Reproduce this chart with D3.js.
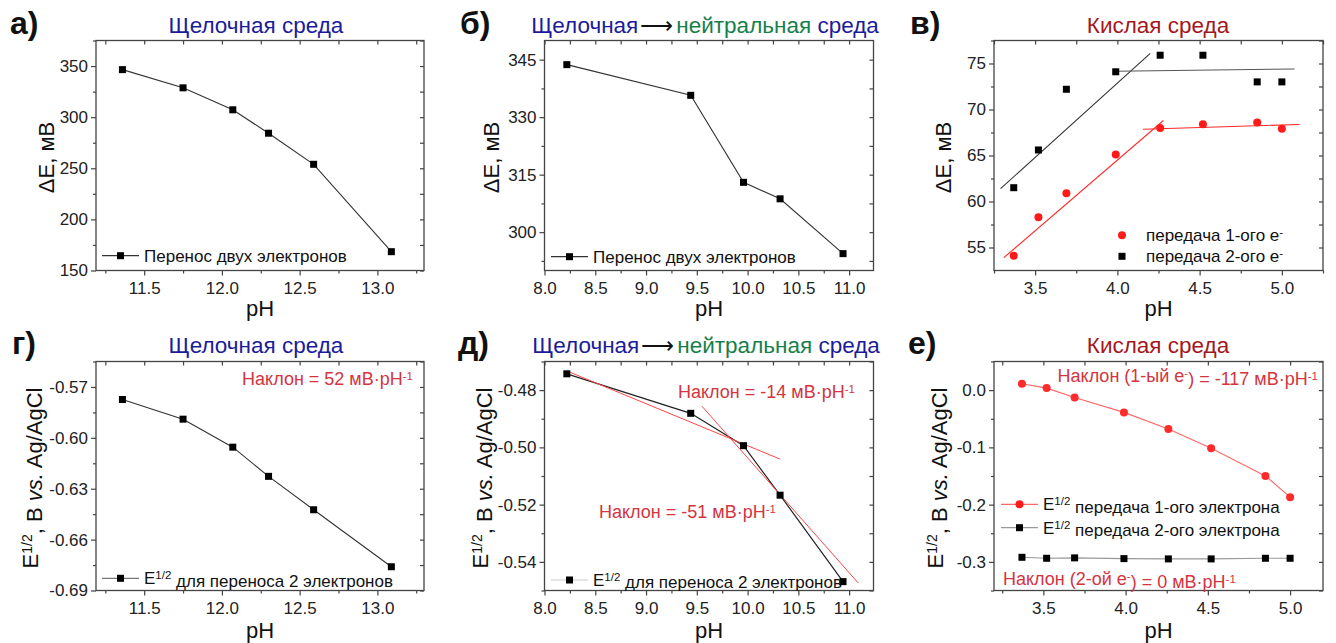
<!DOCTYPE html>
<html><head><meta charset="utf-8">
<script src="https://cdn.jsdelivr.net/npm/d3@7"></script>
<style>
body{margin:0;background:#fff}
svg text{font-family:"Liberation Sans",Arial,sans-serif}
</style>
</head><body>
<svg id="c" width="1336" height="643"></svg>
<script>
// ---------------- data ----------------
const phAlk = [11.36, 11.75, 12.07, 12.30, 12.59, 13.09];
const dEAlk = [346.5, 328.7, 307.2, 284.3, 253.9, 168.4];
const e12Alk = [-0.5774, -0.589, -0.6055, -0.6227, -0.6424, -0.676];

const phNeu = [8.22, 9.44, 9.96, 10.32, 10.94];
const dENeu = [343.7, 335.7, 313.0, 308.7, 294.4];
const e12Neu = [-0.4743, -0.4881, -0.4994, -0.5167, -0.5469];
const fitNeuLow = [[8.24, -0.4736], [10.32, -0.5041]];
const fitNeuHigh = [[9.55, -0.4856], [11.09, -0.5474]];

const phAcid = [3.37, 3.52, 3.69, 3.99, 4.26, 4.52, 4.85, 5.00];
const dEAcid1 = [54.1, 58.3, 60.9, 65.1, 68.0, 68.4, 68.6, 67.9];
const dEAcid2 = [61.5, 65.6, 72.2, 74.1, 75.9, 75.9, 73.0, 73.0];
const fitAcid1Rise = [[3.31, 53.9], [4.28, 68.8]];
const fitAcid1Flat = [[4.155, 67.86], [5.107, 68.37]];
const fitAcid2Rise = [[3.29, 61.4], [4.20, 76.1]];
const fitAcid2Flat = [[3.985, 74.16], [5.077, 74.41]];
const e12Acid1 = [0.011, 0.0035, -0.0128, -0.0389, -0.068, -0.1017, -0.1498, -0.187];
const e12Acid2 = [-0.292, -0.2937, -0.293, -0.2943, -0.2948, -0.2948, -0.2937, -0.2937];

const xTicksAlk = [11.5, 12.0, 12.5, 13.0];
const xMinorAlk = [11.25, 11.75, 12.25, 12.75, 13.25];
const xTicksNeu = [8.0, 8.5, 9.0, 9.5, 10.0, 10.5, 11.0];
const xMinorNeu = [8.25, 8.75, 9.25, 9.75, 10.25, 10.75];
const xTicksAcid = [3.5, 4.0, 4.5, 5.0];
const xMinorAcid = [3.25, 3.75, 4.25, 4.75, 5.25];

const yTicksA = [150, 200, 250, 300, 350];
const yTicksB = [300, 315, 330, 345];
const yTicksV = [55, 60, 65, 70, 75];
const yTicksG = [-0.69, -0.66, -0.63, -0.60, -0.57];
const yTicksD = [-0.54, -0.52, -0.50, -0.48];
const yTicksE = [-0.3, -0.2, -0.1, 0.0];

// ---------------- styles ----------------
const BLUE = "#1c1c9a", GREEN = "#17804a", DRED = "#a3181c", ANN = "#d4343f";
const FRAME = "#444";
const svg = d3.select("#c");

const cols = [{l: 96, r: 424}, {l: 544.5, r: 873.5}, {l: 994, r: 1323}];
const rows = [{t: 40.5, b: 270.5}, {t: 361.5, b: 590.5}];

function rich(sel, parts, supSize) {
  let up = false;
  parts.forEach(p => {
    const ts = sel.append("tspan").text(p.t);
    if (p.sup && !up) { ts.attr("dy", "-0.45em").attr("font-size", supSize); up = true; }
    else if (!p.sup && up) { ts.attr("dy", "0.45em"); up = false; }
    else if (p.sup) ts.attr("font-size", supSize);
    if (p.it) ts.attr("font-style", "italic");
    if (p.fill) ts.attr("fill", p.fill);
    if (p.dx) ts.attr("dx", p.dx);
  });
  return sel;
}

function panel(o) {
  const c = cols[o.col], r = rows[o.row];
  const x = d3.scaleLinear().domain(o.xDomain).range([c.l, c.r]);
  const y = d3.scaleLinear().domain(o.yDomain).range([r.b, r.t]);
  const g = svg.append("g");

  const style = sel => {
    sel.select(".domain").remove();
    sel.selectAll("line").attr("stroke", FRAME).attr("stroke-width", 1.2);
    sel.selectAll("text").attr("font-size", 17).attr("font-family", "Liberation Sans, Arial, sans-serif").attr("fill", "#222");
  };
  g.append("g").attr("transform", `translate(0,${r.b})`)
    .call(d3.axisBottom(x).tickValues(o.xTicks).tickSize(5).tickPadding(6).tickFormat(d3.format(".1f"))).call(style);
  g.append("g").attr("transform", `translate(0,${r.b})`)
    .call(d3.axisBottom(x).tickValues(o.xMinor).tickSize(3).tickFormat("")).call(style);
  g.append("g").attr("transform", `translate(0,${r.t})`)
    .call(d3.axisTop(x).tickValues(o.xTicks.concat(o.xMinor)).tickSize(-4).tickFormat("")).call(style);
  g.append("g").attr("transform", `translate(${c.l},0)`)
    .call(d3.axisLeft(y).tickValues(o.yTicks).tickSize(5).tickPadding(3).tickFormat(d3.format(o.yFmt))).call(style);
  g.append("g").attr("transform", `translate(${c.l},0)`)
    .call(d3.axisLeft(y).tickValues(o.yMinor).tickSize(3).tickFormat("")).call(style);
  g.append("g").attr("transform", `translate(${c.r},0)`)
    .call(d3.axisRight(y).tickValues(o.yTicks.concat(o.yMinor)).tickSize(-4).tickFormat("")).call(style);
  g.selectAll("g.tick text").filter(function(){return this.textContent.startsWith("−");})
    .text(function(){return this.textContent.replace("−", "-");});

  g.append("rect").attr("x", c.l).attr("y", r.t).attr("width", c.r - c.l).attr("height", r.b - r.t)
    .attr("fill", "none").attr("stroke", FRAME).attr("stroke-width", 1.3);

  // axis titles
  g.append("text").attr("x", (c.l + c.r) / 2).attr("y", o.row === 0 ? 316 : 638)
    .attr("text-anchor", "middle").attr("font-size", 22).attr("fill", "#111").text("pH");
  const yt = g.append("text").attr("transform", `translate(${o.yTitleX},${(r.t + r.b) / 2 + 2}) rotate(-90)`)
    .attr("text-anchor", "middle").attr("font-size", 22).attr("fill", "#111");
  rich(yt, o.yTitle, 14);

  // panel letter
  g.append("text").attr("x", o.labelX).attr("y", o.row === 0 ? 34 : 354)
    .attr("font-size", 32).attr("font-weight", "bold").attr("fill", "#111").text(o.label);
  // title
  const tt = g.append("text").attr("x", o.titleX).attr("y", o.row === 0 ? 33 : 353)
    .attr("text-anchor", "middle").attr("font-size", 22.5);
  rich(tt, o.title, 14);

  return {g, x, y};
}

const line = (x, y) => d3.line().x(d => x(d[0])).y(d => y(d[1]));
function squares(g, x, y, xs, ys, fill, s) {
  g.append("g").selectAll("rect").data(xs.map((v, i) => [v, ys[i]])).join("rect")
    .attr("x", d => x(d[0]) - s / 2).attr("y", d => y(d[1]) - s / 2)
    .attr("width", s).attr("height", s).attr("fill", fill);
}
function dots(g, x, y, xs, ys, fill, rr) {
  g.append("g").selectAll("circle").data(xs.map((v, i) => [v, ys[i]])).join("circle")
    .attr("cx", d => x(d[0])).attr("cy", d => y(d[1])).attr("r", rr).attr("fill", fill);
}
function series(g, x, y, xs, ys, stroke, sw) {
  g.append("path").datum(xs.map((v, i) => [v, ys[i]])).attr("d", line(x, y))
    .attr("fill", "none").attr("stroke", stroke).attr("stroke-width", sw);
}
function legendItem(g, x1, x2, yy, lineColor, marker, parts, fs, textX) {
  if (lineColor) g.append("line").attr("x1", x1).attr("x2", x2).attr("y1", yy).attr("y2", yy)
    .attr("stroke", lineColor).attr("stroke-width", 1.2);
  const mx = (x1 + x2) / 2;
  if (marker === "sq") g.append("rect").attr("x", mx - 3.5).attr("y", yy - 3.5).attr("width", 7).attr("height", 7).attr("fill", "#000");
  else g.append("circle").attr("cx", mx).attr("cy", yy).attr("r", 4).attr("fill", "#ff1a1a");
  const t = g.append("text").attr("x", textX != null ? textX : x2 + 5).attr("y", yy + 6).attr("font-size", fs).attr("fill", "#111");
  rich(t, parts, 11.5);
}
function annot(g, xx, yy, anchor, parts, fs) {
  const t = g.append("text").attr("x", xx).attr("y", yy).attr("text-anchor", anchor)
    .attr("font-size", fs).attr("fill", ANN).attr("font-family", "Open Sans, Noto Sans, sans-serif");
  rich(t, parts, 11.5);
}

const dETitle = [{t: "ΔE, мВ"}];
const eTitle = [{t: "E"}, {t: "1/2", sup: true}, {t: ", В "}, {t: "vs.", it: true}, {t: " Ag/AgCl"}];
const alkTitle = [{t: "Щелочная среда", fill: BLUE}];
const neuTitle = [{t: "Щелочная", fill: BLUE}, {t: "⟶", fill: "#111", dx: 2}, {t: "нейтральная", fill: GREEN, dx: 3}, {t: " среда", fill: BLUE}];
const acidTitle = [{t: "Кислая среда", fill: DRED}];

// ---- а)
{
  const p = panel({row: 0, col: 0, xDomain: [11.19, 13.30], yDomain: [150, 375],
    xTicks: xTicksAlk, xMinor: xMinorAlk, yTicks: yTicksA, yMinor: [175, 225, 275, 325, 375], yFmt: "d",
    yTitle: dETitle, yTitleX: 54, label: "а)", labelX: 10, title: alkTitle, titleX: 256});
  series(p.g, p.x, p.y, phAlk, dEAlk, "#333", 1.1);
  squares(p.g, p.x, p.y, phAlk, dEAlk, "#000", 7);
  legendItem(p.g, 102, 139, 255.7, "#333", "sq", [{t: "Перенос двух электронов"}], 17);
}
// ---- б)
{
  const p = panel({row: 0, col: 1, xDomain: [8.0, 11.24], yDomain: [290, 350],
    xTicks: xTicksNeu, xMinor: xMinorNeu, yTicks: yTicksB, yMinor: [292.5, 307.5, 322.5, 337.5], yFmt: "d",
    yTitle: dETitle, yTitleX: 499, label: "б)", labelX: 460, title: neuTitle, titleX: 705});
  series(p.g, p.x, p.y, phNeu, dENeu, "#333", 1.1);
  squares(p.g, p.x, p.y, phNeu, dENeu, "#000", 7);
  legendItem(p.g, 551, 588, 256.7, "#333", "sq", [{t: "Перенос двух электронов"}], 17);
}
// ---- в)
{
  const p = panel({row: 0, col: 2, xDomain: [3.25, 5.25], yDomain: [52.5, 77.5],
    xTicks: xTicksAcid, xMinor: xMinorAcid, yTicks: yTicksV, yMinor: [57.5, 62.5, 67.5, 72.5, 77.5], yFmt: "d",
    yTitle: dETitle, yTitleX: 951, label: "в)", labelX: 910, title: acidTitle, titleX: 1158});
  const L = line(p.x, p.y);
  p.g.append("path").datum(fitAcid2Rise).attr("d", L).attr("stroke", "#333").attr("stroke-width", 1.1).attr("fill", "none");
  p.g.append("path").datum(fitAcid2Flat).attr("d", L).attr("stroke", "#555").attr("stroke-width", 1.1).attr("fill", "none");
  p.g.append("path").datum(fitAcid1Rise).attr("d", L).attr("stroke", "#ff2a2a").attr("stroke-width", 1.1).attr("fill", "none");
  p.g.append("path").datum(fitAcid1Flat).attr("d", L).attr("stroke", "#ff2a2a").attr("stroke-width", 1.1).attr("fill", "none");
  dots(p.g, p.x, p.y, phAcid, dEAcid1, "#ff1a1a", 4);
  squares(p.g, p.x, p.y, phAcid, dEAcid2, "#000", 7);
  legendItem(p.g, 1122, 1122, 235.3, null, "ci", [{t: "передача 1-ого е"}, {t: "-", sup: true}], 17, 1146);
  legendItem(p.g, 1122, 1122, 256.3, null, "sq", [{t: "передача 2-ого е"}, {t: "-", sup: true}], 17, 1146);
}
// ---- г)
{
  const p = panel({row: 1, col: 0, xDomain: [11.19, 13.30], yDomain: [-0.69, -0.555],
    xTicks: xTicksAlk, xMinor: xMinorAlk, yTicks: yTicksG, yMinor: [-0.675, -0.645, -0.615, -0.585, -0.555], yFmt: ".2f",
    yTitle: eTitle, yTitleX: 38, label: "г)", labelX: 12, title: alkTitle, titleX: 256});
  series(p.g, p.x, p.y, phAlk, e12Alk, "#333", 1.1);
  squares(p.g, p.x, p.y, phAlk, e12Alk, "#000", 7);
  legendItem(p.g, 102, 139, 578.3, "#777", "sq", [{t: "E"}, {t: "1/2", sup: true}, {t: " для переноса 2 электронов"}], 17);
  annot(p.g, 413, 385, "end", [{t: "Наклон = 52 мВ·pH"}, {t: "-1", sup: true}], 18);
}
// ---- д)
{
  const p = panel({row: 1, col: 1, xDomain: [8.0, 11.24], yDomain: [-0.55, -0.47],
    xTicks: xTicksNeu, xMinor: xMinorNeu, yTicks: yTicksD, yMinor: [-0.55, -0.53, -0.51, -0.49, -0.47], yFmt: ".2f",
    yTitle: eTitle, yTitleX: 488, label: "д)", labelX: 458, title: neuTitle, titleX: 706});
  const L = line(p.x, p.y);
  series(p.g, p.x, p.y, phNeu, e12Neu, "#222", 1.2);
  p.g.append("path").datum(fitNeuLow).attr("d", L).attr("stroke", "#ff4545").attr("stroke-width", 1).attr("fill", "none");
  p.g.append("path").datum(fitNeuHigh).attr("d", L).attr("stroke", "#ff4545").attr("stroke-width", 1).attr("fill", "none");
  squares(p.g, p.x, p.y, phNeu, e12Neu, "#000", 7);
  legendItem(p.g, 551, 588, 580, "#ccc", "sq", [{t: "E"}, {t: "1/2", sup: true}, {t: " для переноса 2 электронов"}], 17);
  annot(p.g, 678, 398, "start", [{t: "Наклон = -14 мВ·pH"}, {t: "-1", sup: true}], 18);
  annot(p.g, 599, 518, "start", [{t: "Наклон = -51 мВ·pH"}, {t: "-1", sup: true}], 18);
}
// ---- е)
{
  const p = panel({row: 1, col: 2, xDomain: [3.2, 5.2], yDomain: [-0.35, 0.05],
    xTicks: xTicksAcid, xMinor: xMinorAcid.slice(0, 4), yTicks: yTicksE, yMinor: [-0.35, -0.25, -0.15, -0.05, 0.05], yFmt: ".1f",
    yTitle: eTitle, yTitleX: 943, label: "е)", labelX: 908, title: acidTitle, titleX: 1158});
  series(p.g, p.x, p.y, phAcid, e12Acid1, "#ff6666", 1.1);
  series(p.g, p.x, p.y, phAcid, e12Acid2, "#999", 1.1);
  dots(p.g, p.x, p.y, phAcid, e12Acid1, "#ff2a2a", 4);
  squares(p.g, p.x, p.y, phAcid, e12Acid2, "#000", 7);
  legendItem(p.g, 1001, 1038, 504.3, "#ff6666", "ci", [{t: "E"}, {t: "1/2", sup: true}, {t: " передача 1-ого электрона"}], 17);
  legendItem(p.g, 1001, 1038, 527.7, "#999", "sq", [{t: "E"}, {t: "1/2", sup: true}, {t: " передача 2-ого электрона"}], 17);
  annot(p.g, 1318, 382, "end", [{t: "Наклон (1-ый е"}, {t: "-", sup: true}, {t: ") = -117 мВ·pH"}, {t: "-1", sup: true}], 18);
  annot(p.g, 1003, 585, "start", [{t: "Наклон (2-ой е"}, {t: "-", sup: true}, {t: ") = 0 мВ·pH"}, {t: "-1", sup: true}], 18);
}
</script>
</body></html>
